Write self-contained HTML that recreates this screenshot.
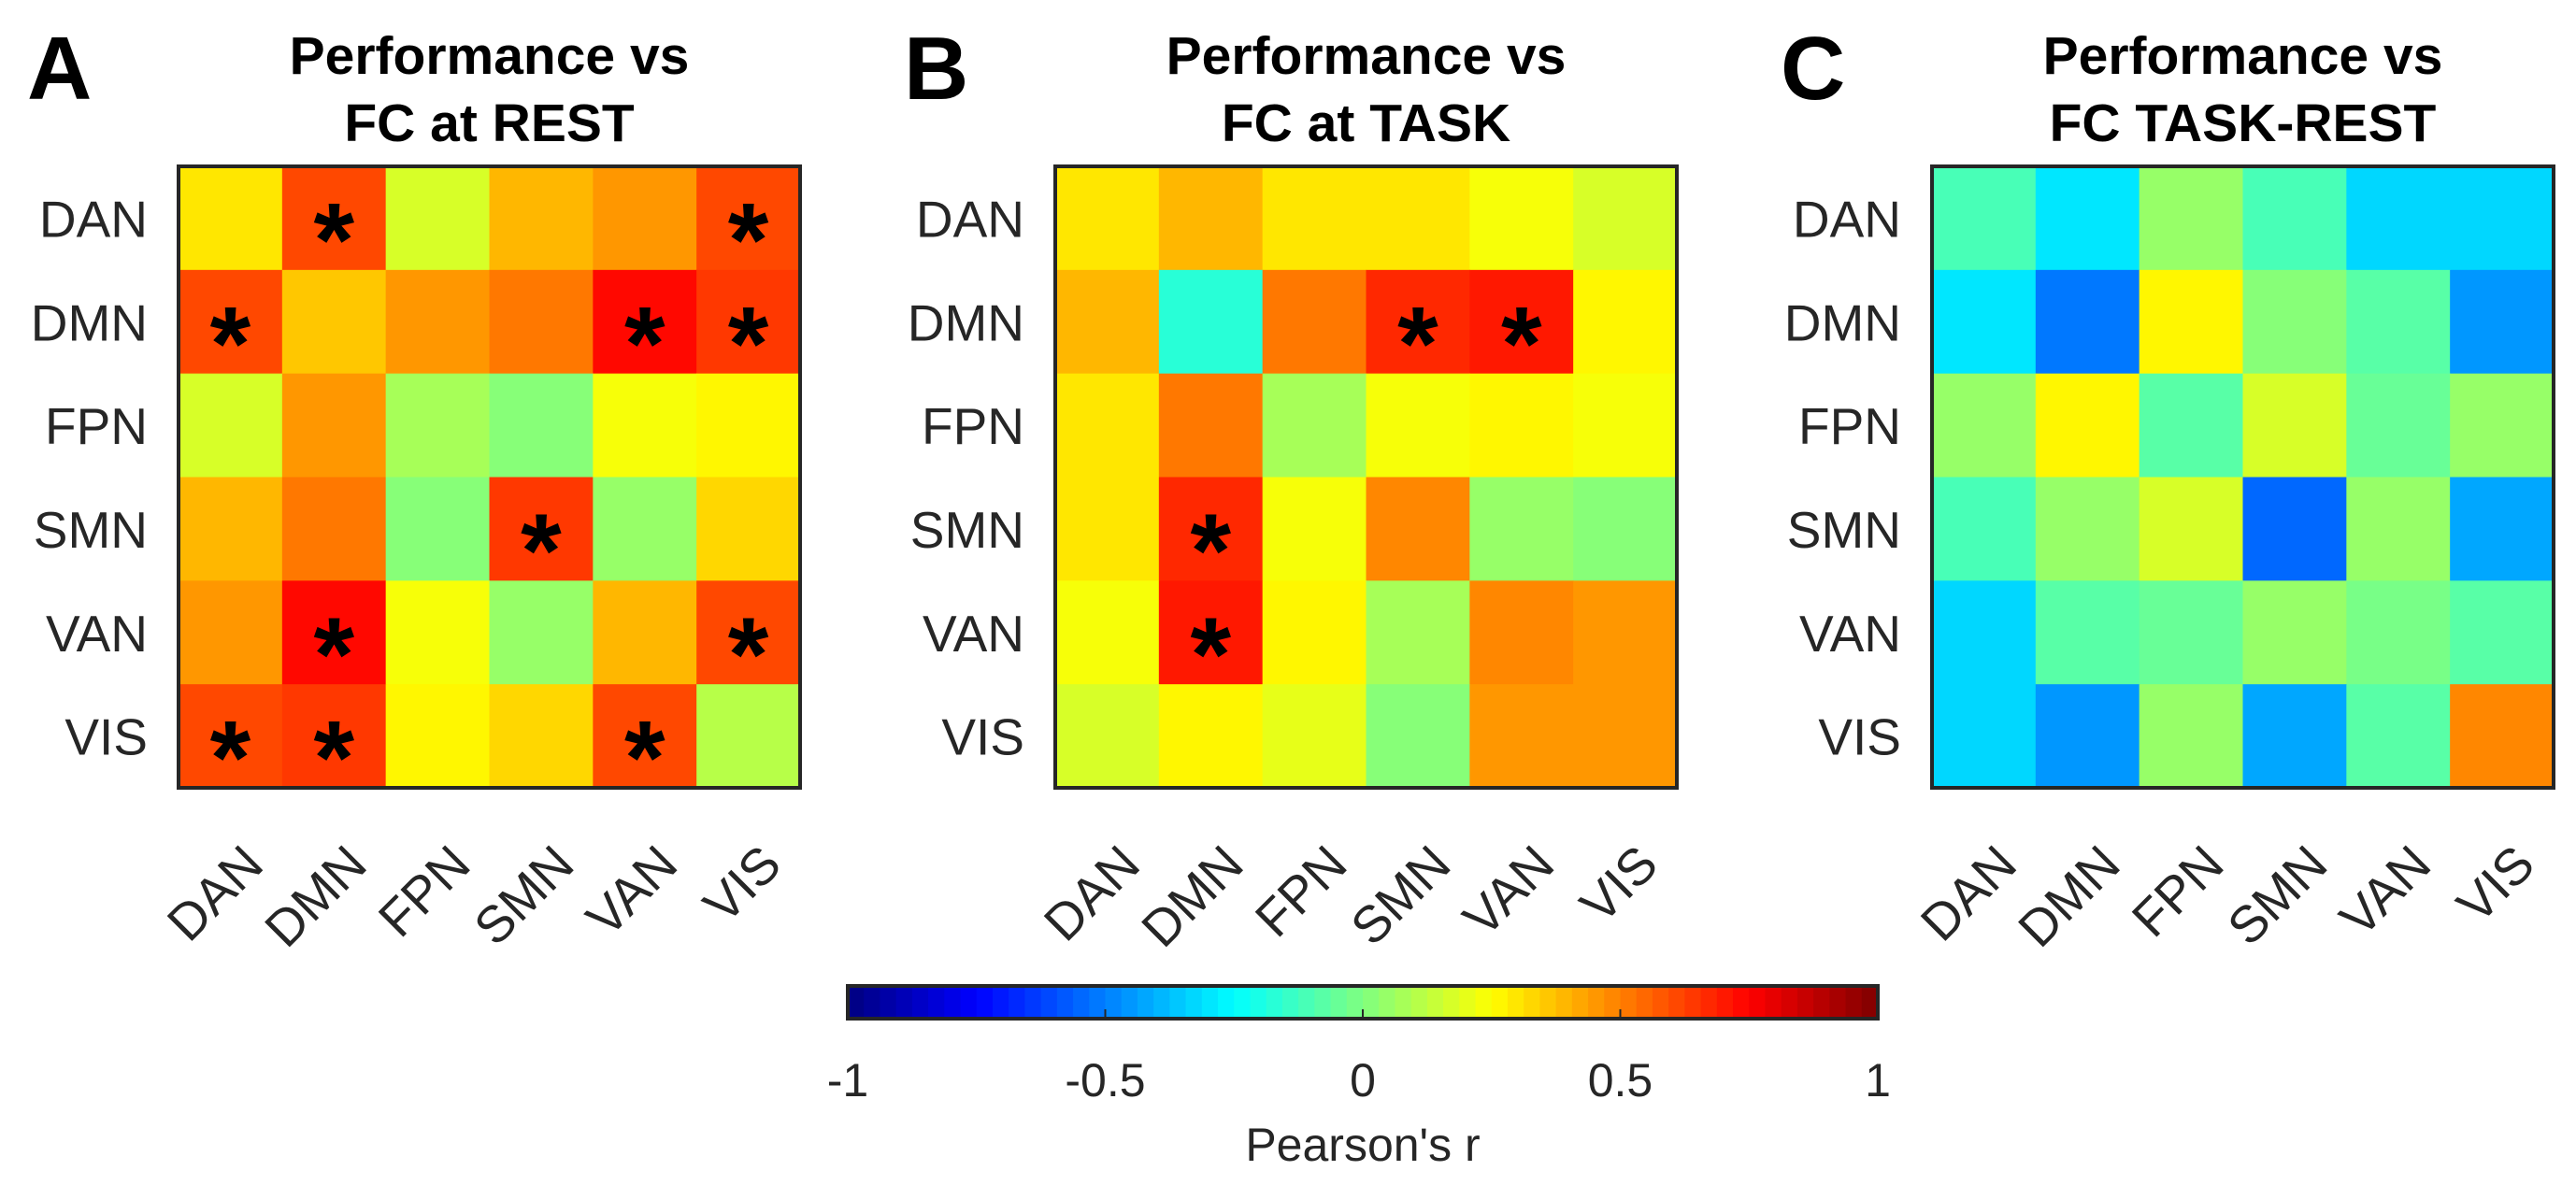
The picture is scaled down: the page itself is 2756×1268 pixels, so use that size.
<!DOCTYPE html>
<html><head><meta charset="utf-8"><style>
html,body{margin:0;padding:0;background:#fff;}
svg{display:block;}
text{font-family:"Liberation Sans",Arial,sans-serif;}
</style></head><body>
<svg id="fig" width="2756" height="1268" viewBox="0 0 2756 1268" xmlns="http://www.w3.org/2000/svg"></svg>
<script>
const networks = ["DAN","DMN","FPN","SMN","VAN","VIS"];
const panelLetters = ["A","B","C"];
const panelTitles1 = ["Performance vs","Performance vs","Performance vs"];
const panelTitles2 = ["FC at REST","FC at TASK","FC TASK-REST"];
const restValues = [
 [0.29,0.62,0.16,0.38,0.44,0.62],
 [0.62,0.35,0.44,0.50,0.72,0.65],
 [0.16,0.44,0.08,0.00,0.22,0.25],
 [0.38,0.50,0.00,0.65,0.04,0.32],
 [0.44,0.72,0.22,0.04,0.38,0.62],
 [0.62,0.65,0.25,0.32,0.62,0.10]];
const restSig = [
 [0,1,0,0,0,1],[1,0,0,0,1,1],[0,0,0,0,0,0],[0,0,0,1,0,0],[0,1,0,0,0,1],[1,1,0,0,1,0]];
const taskValues = [
 [0.30,0.40,0.31,0.31,0.22,0.16],
 [0.40,-0.18,0.50,0.66,0.70,0.25],
 [0.31,0.50,0.07,0.22,0.27,0.22],
 [0.31,0.68,0.22,0.47,0.06,0.03],
 [0.22,0.70,0.27,0.07,0.47,0.44],
 [0.16,0.28,0.19,0.03,0.44,0.44]];
const taskSig = [
 [0,0,0,0,0,0],[0,0,0,1,1,0],[0,0,0,0,0,0],[0,1,0,0,0,0],[0,1,0,0,0,0],[0,0,0,0,0,0]];
const diffValues = [
 [-0.10,-0.30,0.04,-0.10,-0.33,-0.33],
 [-0.30,-0.53,0.28,0.03,-0.07,-0.44],
 [0.04,0.28,-0.07,0.16,-0.04,0.04],
 [-0.10,0.04,0.16,-0.55,0.06,-0.41],
 [-0.33,-0.07,-0.04,0.06,-0.01,-0.07],
 [-0.33,-0.44,0.04,-0.41,-0.07,0.47]];
const diffSig = [
 [0,0,0,0,0,0],[0,0,0,0,0,0],[0,0,0,0,0,0],[0,0,0,0,0,0],[0,0,0,0,0,0],[0,0,0,0,0,0]];
const cbTicks = [-1,-0.5,0,0.5,1];
const cbTickLabels = ["-1","-0.5","0","0.5","1"];

const NS="http://www.w3.org/2000/svg";
const svg=document.getElementById('fig');
function mk(tag,attrs,parent){const e=document.createElementNS(NS,tag);for(const k in attrs)e.setAttribute(k,attrs[k]);(parent||svg).appendChild(e);return e;}
function jet(t){
  const c=x=>Math.max(0,Math.min(1,x));
  const r=c(Math.min(4*t-1.5,-4*t+4.5)),g=c(Math.min(4*t-0.5,-4*t+3.5)),b=c(Math.min(4*t+0.5,-4*t+2.5));
  return `rgb(${Math.round(r*255)},${Math.round(g*255)},${Math.round(b*255)})`;
}
function cmap(v){let i=Math.floor((v+1)/2*64);i=Math.max(0,Math.min(63,i));return jet((i+0.5)/64);}

const panelLeft=[191,1129,2067], hmTop=178, hmSize=665, cell=hmSize/6;
const xScale=(p,j)=>panelLeft[p]+cell*(j+0.5);
const yScale=i=>hmTop+cell*(i+0.5);
const data=[restValues,taskValues,diffValues], sigs=[restSig,taskSig,diffSig];

for(let p=0;p<3;p++){
  const g=mk('g',{});
  
  
  const L=mk('text',{x:panelLeft[p]-162,y:106,'font-size':96,'font-weight':'bold',fill:'#000'},g);
  L.textContent=panelLetters[p];
  
  
  const cx=panelLeft[p]+hmSize/2;
  const t1=mk('text',{x:cx,y:79,'font-size':57,'font-weight':'bold','text-anchor':'middle',fill:'#000'},g);
  t1.textContent=panelTitles1[p];
  
  
  const t2=mk('text',{x:cx,y:151,'font-size':57,'font-weight':'bold','text-anchor':'middle',fill:'#000'},g);
  t2.textContent=panelTitles2[p];
  
  
  for(let i=0;i<6;i++)for(let j=0;j<6;j++){
    const r=mk('rect',{x:xScale(p,j)-cell/2,y:yScale(i)-cell/2,width:cell+0.6,height:cell+0.6,fill:cmap(data[p][i][j])},g);
    
    
    if(sigs[p][i][j]){
      const s=mk('text',{x:xScale(p,j),y:yScale(i)+62,'font-size':112,'font-weight':'bold','text-anchor':'middle',fill:'#000'},g);
      s.textContent='*';
      
      
    }
  }
  const fr=mk('rect',{x:panelLeft[p],y:hmTop,width:hmSize,height:hmSize,fill:'none',stroke:'#262626','stroke-width':4},g);
  
  
  for(let i=0;i<6;i++){
    const y=mk('text',{x:panelLeft[p]-33,y:yScale(i)+20,'font-size':55,'text-anchor':'end',fill:'#262626'},g);
    y.textContent=networks[i];
    
    
    const ax=xScale(p,i)+38, ay=928;
    const x=mk('text',{x:ax,y:ay,'font-size':55,'text-anchor':'end',fill:'#262626',transform:`rotate(-45 ${ax} ${ay})`},g);
    x.textContent=networks[i];
    
    
  }
}
// colorbar
const cbL=907,cbR=2009,cbT=1055,cbB=1090;
const cbX=v=>cbL+(v+1)/2*(cbR-cbL);
const cg=mk('g',{});


for(let k=0;k<64;k++){
  const v0=-1+2*k/64;
  const r=mk('rect',{x:cbX(v0),y:cbT,width:(cbR-cbL)/64+0.6,height:cbB-cbT,fill:jet((k+0.5)/64)},cg);
  
  
}
const cf=mk('rect',{x:cbL,y:cbT,width:cbR-cbL,height:cbB-cbT,fill:'none',stroke:'#262626','stroke-width':4},cg);


for(let k=0;k<cbTicks.length;k++){
  const x=cbX(cbTicks[k]);
  const tk=mk('line',{x1:x,x2:x,y1:cbB,y2:cbB-10,stroke:'#262626','stroke-width':2},cg);
  
  
  const t=mk('text',{x:x,y:1173,'font-size':50,'text-anchor':'middle',fill:'#262626'},cg);
  t.textContent=cbTickLabels[k];
  
  
}
const cl=mk('text',{x:(cbL+cbR)/2,y:1242,'font-size':50,'text-anchor':'middle',fill:'#262626'},cg);
cl.textContent="Pearson's r";


</script>
</body></html>
